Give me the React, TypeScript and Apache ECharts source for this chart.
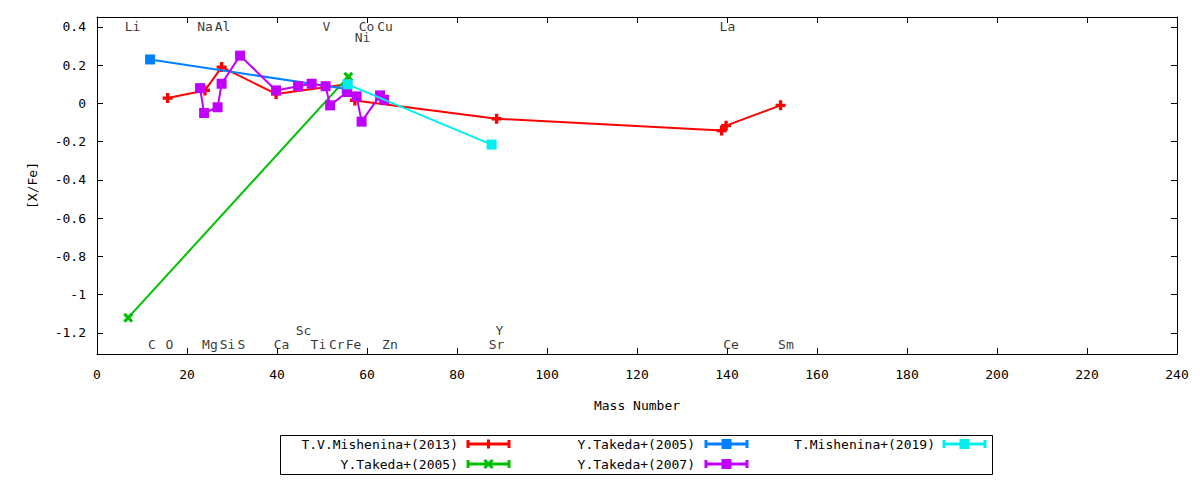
import React, { useEffect, useRef } from "react";
import * as echarts from "echarts";

// ---- data ----
const seriesNames = [
  "T.V.Mishenina+(2013)",
  "Y.Takeda+(2005)",
  "Y.Takeda+(2005)",
  "Y.Takeda+(2007)",
  "T.Mishenina+(2019)",
];
const seriesColors = ["#ff0000", "#00c000", "#0080ff", "#c000ff", "#00eeee"];

const mishenina2013X = [15.7, 24.0, 27.7, 39.8, 55.6, 57.3, 88.8, 138.8, 139.8, 151.9];
const mishenina2013Y = [0.028, 0.068, 0.19, 0.05, 0.1, 0.016, -0.08, -0.142, -0.116, -0.01];

const takeda2005aX = [6.94, 55.85];
const takeda2005aY = [-1.12, 0.14];

const takeda2005bX = [11.8, 55.5];
const takeda2005bY = [0.23, 0.075];

const takeda2007X = [22.9, 23.8, 26.8, 27.7, 31.8, 39.8, 44.7, 47.7, 50.8, 51.8, 55.6, 57.7, 58.8, 62.9, 63.8];
const takeda2007Y = [0.08, -0.05, -0.02, 0.103, 0.25, 0.068, 0.09, 0.103, 0.09, -0.01, 0.06, 0.037, -0.095, 0.042, 0.019];

const mishenina2019X = [55.7, 87.7];
const mishenina2019Y = [0.1, -0.215];

const elemNames = ["Li", "Na", "Al", "V", "Co", "Cu", "La", "Ni",
  "C", "O", "Mg", "Si", "S", "Ca", "Ti", "Cr", "Fe", "Zn", "Sr", "Ce", "Sm", "Sc", "Y"];
const elemX = [7.9, 24.0, 27.9, 51.0, 59.9, 64.0, 140.1, 59.0,
  12.2, 16.1, 25.1, 29.0, 32.1, 41.0, 49.2, 53.3, 57.0, 65.1, 88.8, 140.9, 153.1, 45.9, 89.4];
const elemY = [0.4, 0.4, 0.4, 0.4, 0.4, 0.4, 0.4, 0.345,
  -1.262, -1.262, -1.262, -1.262, -1.262, -1.262, -1.262, -1.262, -1.262, -1.262, -1.262, -1.262, -1.262, -1.187, -1.187];

const xMin = 0;
const xMax = 240;
const xStep = 20;
const yMin = -1.31;
const yMax = 0.452;
const yTicks = [-1.2, -1, -0.8, -0.6, -0.4, -0.2, 0, 0.2, 0.4];

const FONT = '"DejaVu Sans Mono", monospace';
const PLUS = "path://M3,0H6V3H9V6H6V9H3V6H0V3H3Z";
const CROSS = "path://M0,2L2,0L4.5,2.5L7,0L9,2L6.5,4.5L9,7L7,9L4.5,6.5L2,9L0,7L2.5,4.5Z";
const symbols = [PLUS, CROSS, "rect", "rect", "rect"];

const zip = (xs: number[], ys: number[]) => xs.map((x, i) => [x, ys[i]]);

function legendGraphics() {
  const els: any[] = [];
  els.push({
    type: "rect",
    shape: { x: 280.5, y: 435.5, width: 712, height: 39 },
    style: { fill: "none", stroke: "#000", lineWidth: 1 },
    silent: true,
  });
  const pos = [
    { tx: 458, lx: 467, y: 444 },
    { tx: 458, lx: 467, y: 464 },
    { tx: 695, lx: 705, y: 444 },
    { tx: 695, lx: 705, y: 464 },
    { tx: 935, lx: 943, y: 444 },
  ];
  seriesNames.forEach((name, i) => {
    const p = pos[i];
    const c = seriesColors[i];
    const x1 = p.lx, x2 = p.lx + 43, y = p.y;
    const mx = (x1 + x2) / 2;
    els.push({
      type: "text",
      x: p.tx,
      y: y,
      style: { text: name, align: "right", verticalAlign: "middle", font: `13px ${FONT}`, fill: "#000" },
      silent: true,
    });
    els.push({ type: "line", shape: { x1, y1: y, x2, y2: y }, style: { stroke: c, lineWidth: 3 }, silent: true });
    els.push({ type: "line", shape: { x1: x1 + 1, y1: y - 4, x2: x1 + 1, y2: y + 4 }, style: { stroke: c, lineWidth: 3 }, silent: true });
    els.push({ type: "line", shape: { x1: x2 - 1, y1: y - 4, x2: x2 - 1, y2: y + 4 }, style: { stroke: c, lineWidth: 3 }, silent: true });
    if (i === 0) {
      els.push({ type: "rect", shape: { x: mx - 1.5, y: y - 4.5, width: 3, height: 9 }, style: { fill: c }, silent: true });
    } else if (i === 1) {
      els.push({ type: "line", shape: { x1: mx - 4, y1: y - 4, x2: mx + 4, y2: y + 4 }, style: { stroke: c, lineWidth: 3 }, silent: true });
      els.push({ type: "line", shape: { x1: mx - 4, y1: y + 4, x2: mx + 4, y2: y - 4 }, style: { stroke: c, lineWidth: 3 }, silent: true });
    } else {
      els.push({ type: "rect", shape: { x: mx - 5, y: y - 5, width: 10, height: 10 }, style: { fill: c }, silent: true });
    }
  });
  return els;
}

export default function App() {
  const ref = useRef<HTMLDivElement>(null);
  useEffect(() => {
    document.body.style.margin = "0";
    if (!ref.current) return;
    const chart = echarts.init(ref.current, undefined, { renderer: "svg" });
    const dataSets = [
      zip(mishenina2013X, mishenina2013Y),
      zip(takeda2005aX, takeda2005aY),
      zip(takeda2005bX, takeda2005bY),
      zip(takeda2007X, takeda2007Y),
      zip(mishenina2019X, mishenina2019Y),
    ];
    const axisLine = { show: true, onZero: false, lineStyle: { color: "#000", width: 1 } };
    const tick = { show: true, inside: true, length: 6, lineStyle: { color: "#000", width: 1 } };
    const option: any = {
      animation: false,
      backgroundColor: "#fff",
      textStyle: { fontFamily: FONT, fontSize: 13, color: "#000" },
      grid: { left: 97, right: 23, top: 17, bottom: 126, containLabel: false, outerBoundsMode: "none" },
      xAxis: [
        {
          type: "value",
          min: xMin,
          max: xMax,
          interval: xStep,
          position: "bottom",
          name: "Mass Number",
          nameLocation: "middle",
          nameGap: 45,
          nameTextStyle: { fontFamily: FONT, fontSize: 13, color: "#000" },
          axisLine,
          axisTick: tick,
          axisLabel: { show: true, margin: 14, fontFamily: FONT, fontSize: 13, color: "#000" },
          splitLine: { show: false },
        },
        {
          type: "value",
          min: xMin,
          max: xMax,
          interval: xStep,
          position: "top",
          axisLine,
          axisTick: tick,
          axisLabel: { show: false },
          splitLine: { show: false },
        },
      ],
      yAxis: [
        {
          type: "value",
          min: yMin,
          max: yMax,
          position: "left",
          name: "[X/Fe]",
          nameLocation: "middle",
          nameGap: 58,
          nameTextStyle: { fontFamily: FONT, fontSize: 13, color: "#000" },
          axisLine,
          axisTick: { ...tick, customValues: yTicks },
          axisLabel: { show: true, margin: 11, customValues: yTicks, fontFamily: FONT, fontSize: 13, color: "#000" },
          splitLine: { show: false },
        },
        {
          type: "value",
          min: yMin,
          max: yMax,
          position: "right",
          axisLine,
          axisTick: { ...tick, customValues: yTicks },
          axisLabel: { show: false, customValues: yTicks },
          splitLine: { show: false },
        },
      ],
      series: [
        {
          type: "scatter",
          name: "elements",
          xAxisIndex: 0,
          yAxisIndex: 0,
          silent: true,
          symbolSize: 1,
          itemStyle: { color: "rgba(0,0,0,0)" },
          label: {
            show: true,
            position: "inside",
            formatter: (p: any) => p.name,
            fontFamily: FONT,
            fontSize: 13,
            lineHeight: 10,
            color: "#000",
          },
          data: elemNames.map((n, i) => ({ name: n, value: [elemX[i], elemY[i]] })),
          z: 1,
        },
        ...dataSets.map((d, i) => ({
          type: "line",
          name: seriesNames[i],
          xAxisIndex: 0,
          yAxisIndex: 0,
          data: d,
          symbol: symbols[i],
          symbolSize: 10,
          showSymbol: true,
          lineStyle: { color: seriesColors[i], width: 2 },
          itemStyle: { color: seriesColors[i], borderWidth: 0 },
          emphasis: { disabled: true },
          z: 2 + i,
        })),
      ],
      graphic: legendGraphics(),
    };
    chart.setOption(option);
    return () => chart.dispose();
  }, []);
  return (
    <div
      ref={ref}
      style={{ position: "fixed", left: 0, top: 0, width: 1200, height: 480, background: "#fff" }}
    />
  );
}
